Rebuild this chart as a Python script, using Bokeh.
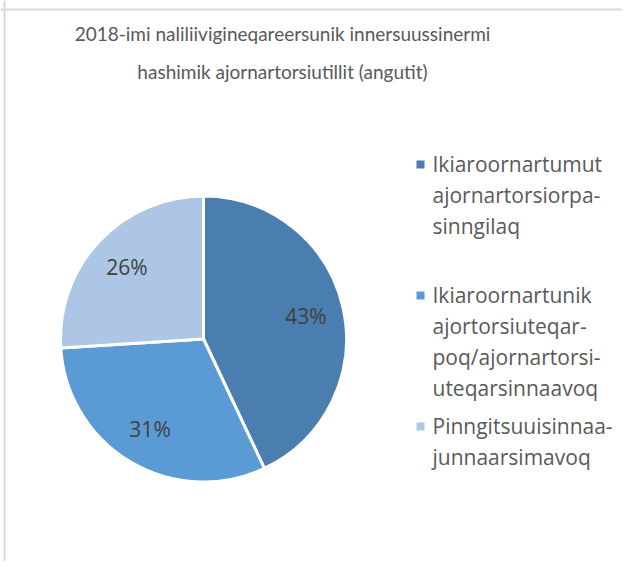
import math
from bokeh.plotting import figure
from bokeh.models import Range1d, Span, ColumnDataSource
from bokeh.core.properties import value
from bokeh.embed import file_html
from bokeh.resources import INLINE

# ---- data ----
title_lines = ["2018-imi naliliivigineqareersunik innersuussinermi",
               "hashimik ajornartorsiutillit (angutit)"]
categories = ["Ikiaroornartumut ajornartorsiorpasinngilaq",
              "Ikiaroornartunik ajortorsiuteqarpoq/ajornartorsiuteqarsinnaavoq",
              "Pinngitsuuisinnaajunnaarsimavoq"]
legend_lines = [["Ikiaroornartumut", "ajornartorsiorpa-", "sinngilaq"],
                ["Ikiaroornartunik", "ajortorsiuteqar-", "poq/ajornartorsi-", "uteqarsinnaavoq"],
                ["Pinngitsuuisinnaa-", "junnaarsimavoq"]]
shares = [43, 31, 26]
colors = ["#4a7eb0", "#5b9bd5", "#adc6e6"]

W, H = 622, 561
p = figure(width=W, height=H, output_backend="svg", toolbar_location=None,
           x_range=Range1d(0, W), y_range=Range1d(0, H), min_border=0,
           tools="")
p.axis.visible = False
p.grid.visible = False
p.outline_line_color = None
p.background_fill_color = "white"
p.border_fill_color = "white"

def Y(screen_y):
    return H - screen_y

def X(screen_x):
    return screen_x

# borders (top and left only visible in reference)
p.add_layout(Span(location=X(4), dimension="height", line_color="#d9d9d9", line_width=2))
p.add_layout(Span(location=Y(9), dimension="width", line_color="#d9d9d9", line_width=2))

# ---- pie ----
cx, cy, r = X(203), Y(338.5), 143
total = sum(shares)
starts, ends, mids = [], [], []
cum = 0
for s in shares:
    a0 = math.pi / 2 - 2 * math.pi * cum / total
    cum += s
    a1 = math.pi / 2 - 2 * math.pi * cum / total
    starts.append(a0); ends.append(a1); mids.append((a0 + a1) / 2)

src = ColumnDataSource(dict(start=starts, end=ends, color=colors,
                            label=[f"{s}%" for s in shares]))
p.wedge(x=cx, y=cy, radius=r, start_angle="start", end_angle="end",
        direction="clock", fill_color="color", line_color="white",
        line_width=3, source=src)

lr = 105
lab = ColumnDataSource(dict(x=[cx + lr * math.cos(m) for m in mids],
                            y=[cy + lr * math.sin(m) for m in mids],
                            t=[f"{s}%" for s in shares]))
p.text(x="x", y="y", text="t", source=lab, text_align="center",
       text_baseline="middle", text_font=value("Open Sans"),
       text_font_size="21px", text_color="#404040")

# ---- title ----
p.text(x=[X(282)] * 2, y=[Y(33), Y(71)], text=title_lines,
       text_align="center", text_baseline="middle",
       text_font=value("Lato"), text_font_size="19px",
       text_color="#595959")

# ---- legend ----
entry_y0, entry_gap, line_gap = 163, 131, 31
for i, lines in enumerate(legend_lines):
    y0 = entry_y0 + i * entry_gap
    p.rect(x=[X(420)], y=[Y(y0 + 1)], width=8, height=8,
           fill_color=colors[i], line_color=None)
    p.text(x=[X(432)] * len(lines),
           y=[Y(y0 + k * line_gap) for k in range(len(lines))],
           text=lines, text_align="left", text_baseline="middle",
           text_font=value("Open Sans"), text_font_size="21px",
           text_color="#595959")

open("out.html", "w").write(file_html(p, INLINE))
